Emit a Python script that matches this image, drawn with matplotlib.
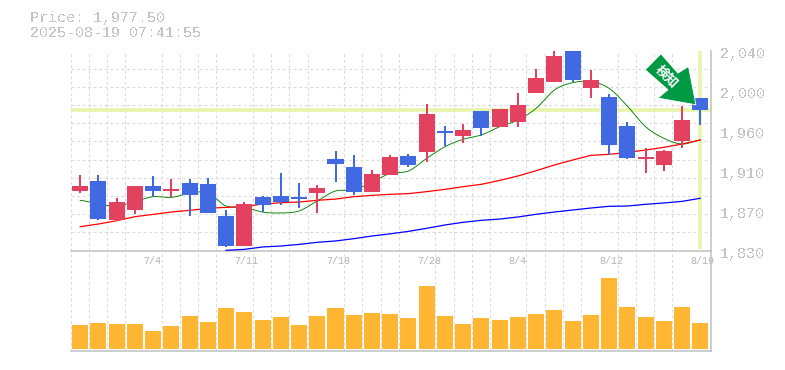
import numpy as np
import matplotlib
matplotlib.use("Agg")
import matplotlib.pyplot as plt
from matplotlib.patches import Polygon
from matplotlib.transforms import Affine2D, ScaledTranslation

plt.rcParams['text.antialiased'] = False

opens = [1892.5,1903.0,1862.0,1872.5,1897.7,1892.5,1900.9,1899.8,1866.2,1834.7,1886.1,1887.2,1886.1,1890.4,1926.0,1917.7,1891.4,1909.3,
         1929.2,1933.4,1955.5,1950.2,1976.5,1959.6,1964.9,1995.4,2006.9,2046.0,2000.6,1991.2,1960.7,1926.0,1919.8,1945.0,1990.1]
closes = [1897.7,1863.1,1880.9,1897.7,1892.5,1894.6,1888.3,1869.4,1834.7,1878.8,1877.8,1880.9,1884.0,1895.6,1920.8,1891.4,1910.3,1928.2,
          1919.8,1973.3,1953.4,1956.5,1958.6,1978.6,1982.8,2011.1,2034.2,2009.0,2009.0,1940.8,1927.1,1928.2,1934.4,1967.0,1977.5]
highs = [1909.3,1909.3,1885.1,1897.7,1908.2,1905.0,1905.0,1906.1,1872.5,1880.9,1887.2,1911.4,1900.9,1898.8,1934.4,1930.3,1914.5,1930.3,
         1931.3,1983.8,1960.7,1962.8,1976.5,1978.6,1995.4,2020.6,2044.0,2048.0,2019.5,1994.3,1964.9,1937.6,1935.5,1981.7,1990.1]
lows = [1890.4,1862.0,1861.0,1868.3,1886.1,1886.1,1866.2,1869.4,1833.7,1834.7,1870.4,1877.8,1874.6,1869.4,1901.9,1888.3,1891.4,1909.3,
        1917.7,1922.9,1939.7,1942.9,1950.2,1959.6,1959.6,1995.4,2006.9,2006.9,1990.1,1930.3,1926.0,1911.4,1913.5,1937.6,1961.8]
ma_short = [1882.7,1878.8,1876.7,1881.6,1886.5,1885.8,1890.0,1890.7,1876.7,1875.6,1870.4,1869.4,1871.5,1882.0,1892.5,1893.5,1901.9,1911.0,
            1913.5,1926.8,1939.0,1946.7,1951.3,1960.0,1967.0,1979.3,1998.5,2006.2,2007.3,2000.3,1981.7,1960.0,1947.8,1941.8,1946.0]
ma_mid = [1855.0,1857.8,1861.3,1865.5,1867.9,1870.4,1872.2,1874.3,1875.3,1876.0,1878.8,1880.2,1880.9,1882.7,1884.0,1886.5,1887.9,1889.0,
          1889.7,1891.8,1894.2,1897.0,1899.5,1903.6,1908.2,1913.8,1919.8,1925.0,1929.9,1931.0,1933.0,1935.5,1938.3,1941.8,1946.0]
ma_long_start = 8
ma_long = [1830.2,1831.2,1833.7,1834.7,1836.4,1838.6,1840.0,1842.4,1845.2,1847.5,1850.1,1853.3,1856.8,1859.6,1861.7,1863.0,1865.2,
           1868.0,1870.4,1872.5,1874.6,1876.4,1876.7,1878.5,1879.9,1881.6,1884.8]
volumes = [72,78,75,75,54,69,99,81,123,111,87,96,72,99,123,102,108,105,93,189,99,75,93,87,96,105,117,84,102,213,126,96,84,126,78]
date_idx = [4,9,14,19,24,29,34]
date_labels = ['7/4','7/11','7/18','7/28','8/4','8/12','8/19']
price_ticks = [1830,1872,1914,1956,1998,2040]
price_labels = ['1,830','1,870','1,910','1,960','2,000','2,040']
current_price = 1977.50
header = ['Price: 1,977.50', '2025-08-19 07:41:55']

RED, BLUE, ORANGE = '#E2425F', '#4169E1', '#FFB733'
GRID, BORDER, TXT, HILITE = '#DADADA', '#C0C0C0', '#C4C4C4', '#E6F5AA'
MONO = 'Liberation Mono'
W, H = 785, 370

fig = plt.figure(figsize=(W/100, H/100), dpi=100)
L, R, T, M, B = 70.5, 710.5, 50.5, 250.5, 350.5
ax = fig.add_axes([L/W, 1-M/H, (R-L)/W, (M-T)/H])
vol = fig.add_axes([L/W, 1-B/H, (R-L)/W, (B-M)/H], sharex=ax)
vol.patch.set_alpha(0)

n = len(closes)
x = np.arange(n)
ax.set_xlim(-0.53, 34.56)
ax.set_ylim(1830, 2040)
vol.set_ylim(-6, 294)
off = 0.53

# grids
gx = x - off
ax.set_xticks(gx[np.array(date_idx)], date_labels, ha='left', family=MONO, fontsize=7.2, color='#B4B4B4')
for lab in ax.get_xticklabels():
    lab.set_antialiased(True)
ax.set_xticks(gx, minor=True)
ax.set_yticks(np.linspace(1830, 2040, 12), minor=True)
ax.tick_params(axis='x', which='both', length=0, pad=4)
ax.tick_params(axis='y', which='minor', length=0)
ax.yaxis.tick_right()
ax.set_yticks(price_ticks, price_labels, family=MONO, fontsize=10.8, color=TXT)
ax.tick_params(axis='y', which='major', length=0, pad=7)
for lab in ax.get_yticklabels():
    lab.set_transform(lab.get_transform() + ScaledTranslation(0, -2/100, fig.dpi_scale_trans))
ax.grid(which='minor', color=GRID, lw=0.8, ls=(0, (2.5, 2.5)))
ax.set_axisbelow(True)
vol.set_xticks(gx, minor=True)
vol.tick_params(axis='x', which='both', length=0, labelbottom=False)
vol.tick_params(axis='y', which='both', length=0, labelleft=False)
vol.set_yticks([])
vol.grid(which='minor', axis='x', color=GRID, lw=0.8, ls=(0, (2.5, 2.5)))
vol.set_axisbelow(True)

for a in (ax, vol):
    a.spines['top'].set_visible(False)
    a.spines['left'].set_visible(False)
    a.spines['right'].set_color(BORDER)
    a.spines['bottom'].set_color(BORDER)
    a.spines['right'].set_linewidth(1.1)
    a.spines['bottom'].set_linewidth(1.1)

# current price highlights
ax.axhline(current_price, color=HILITE, lw=2.6, zorder=1.5)
ax.plot([x[-1], x[-1]], [1832, 2040], color=HILITE, lw=2.6, zorder=1.5, solid_capstyle='butt')

# candles
colors = [RED if c >= o else BLUE for o, c in zip(opens, closes)]
ax.vlines(x, lows, highs, colors=colors, lw=1.1, zorder=3, antialiased=False)
ax.bar(x, np.abs(np.array(closes)-np.array(opens)), bottom=np.minimum(opens, closes),
       width=0.88, color=colors, zorder=3, linewidth=0)

def smooth(xs, ys, k=12):
    xs, ys = np.asarray(xs, float), np.asarray(ys, float)
    px, py = [], []
    idx = np.arange(len(xs))
    for i in idx[:-1]:
        p0, p1, p2, p3 = ys[max(i-1, 0)], ys[i], ys[i+1], ys[min(i+2, len(ys)-1)]
        t = np.linspace(0, 1, k, endpoint=False)
        px.append(xs[i] + t*(xs[i+1]-xs[i]))
        py.append(0.5*((2*p1)+(-p0+p2)*t+(2*p0-5*p1+4*p2-p3)*t**2+(-p0+3*p1-3*p2+p3)*t**3))
    return np.r_[np.concatenate(px), xs[-1]], np.r_[np.concatenate(py), ys[-1]]

# moving averages run behind the candles
sx, sy = smooth(x, ma_short)
ax.plot(sx, sy, color='#008000', lw=0.65, zorder=2.5)
ax.plot(x, ma_mid, color='#FF0000', lw=0.9, zorder=2.6)
ax.plot(x[ma_long_start:], ma_long, color='#0000FF', lw=0.9, zorder=2.6)

# volume
vol.bar(x, volumes, width=0.88, color=ORANGE, linewidth=0, zorder=3)

# arrow anchored near the last candle (offsets in pixels, y down)
tip = ax.transData.transform((x[-1]-0.24, current_price+5.5))
tr = Affine2D().scale(1, -1).translate(*tip)
shape = [(0,0),(-7.4,-38.3),(-18,-31.7),(-35,-51),(-50.7,-35),(-28,-15),(-38,-6.7)]
fig.add_artist(Polygon(shape, closed=True, transform=tr, facecolor='#009944', edgecolor='white', lw=0.6, zorder=5))
tc = tr.transform((-29.2, -28.5))
fig.text(tc[0]/W, tc[1]/H, '検知', rotation=-45, rotation_mode='anchor', ha='center', va='center',
         color='white', fontsize=9.4, fontweight='bold', family='Noto Sans CJK JP', zorder=6, antialiased=True)

# header
fig.text(30/W, 1-18/H, header[0], family=MONO, fontsize=10.8, color=TXT, va='center')
fig.text(30/W, 1-33/H, header[1], family=MONO, fontsize=10.8, color=TXT, va='center')

fig.savefig('out.png', dpi=100)
